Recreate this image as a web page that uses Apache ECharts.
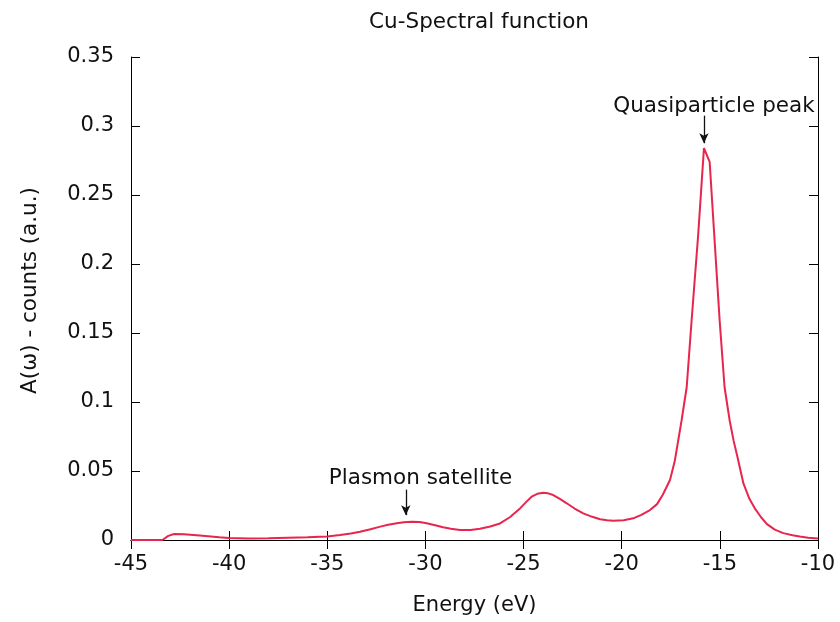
<!DOCTYPE html>
<html>
<head>
<meta charset="utf-8">
<script src="https://cdn.jsdelivr.net/npm/echarts@6/dist/echarts.min.js"></script>
<style>html,body{margin:0;padding:0;background:#fff}#c{width:840px;height:622px}</style>
</head>
<body>
<div id="c"></div>
<script>
const energy = [-45, -43.4, -43.1, -42.8, -42.3, -41.5, -40.5, -40, -39, -38, -37, -36, -35.37, -35, -34.35, -33.8, -33.33, -32.8, -32.3, -31.9, -31.46, -31.1, -30.7, -30.3, -29.94, -29.5, -29.1, -28.7, -28.24, -27.7, -27.22, -26.7, -26.2, -25.7, -25.18, -24.85, -24.59, -24.3, -24.0, -23.75, -23.49, -23.15, -22.8, -22.4, -21.96, -21.5, -21.1, -20.75, -20.43, -19.9, -19.41, -19.0, -18.56, -18.2, -17.9, -17.54, -17.3, -16.95, -16.69, -16.44, -16.1, -15.81, -15.52, -15.01, -14.76, -14.5, -14.3, -14.1, -13.8, -13.5, -13.2, -12.9, -12.6, -12.2, -11.77, -11.3, -10.93, -10.5, -10];
const spectral = [0, 0, 0.003, 0.0043, 0.0042, 0.0033, 0.002, 0.0015, 0.0011, 0.0012, 0.0016, 0.002, 0.0024, 0.0026, 0.0036, 0.0047, 0.006, 0.0078, 0.0097, 0.011, 0.0121, 0.0129, 0.0133, 0.013, 0.0121, 0.0107, 0.0092, 0.0081, 0.0072, 0.0072, 0.0082, 0.0098, 0.012, 0.0165, 0.0229, 0.0278, 0.0314, 0.0335, 0.0343, 0.0338, 0.0326, 0.0298, 0.0266, 0.0228, 0.0193, 0.0168, 0.015, 0.0143, 0.014, 0.0143, 0.0157, 0.0182, 0.0217, 0.026, 0.033, 0.0435, 0.057, 0.0866, 0.1107, 0.159, 0.222, 0.284, 0.274, 0.159, 0.1107, 0.0866, 0.072, 0.06, 0.041, 0.03, 0.0225, 0.0165, 0.0115, 0.0075, 0.005, 0.0034, 0.0025, 0.0017, 0.0011];
const annotText = ['Plasmon satellite', 'Quasiparticle peak'];
const annotTextX = [-30.25, -15.3];
const annotTextY = [0.0443, 0.3145];
const arrowX = [-31.0, -15.81];
const arrowFrom = [0.0365, 0.3075];
const arrowTo = [0.018, 0.2875];
const xTicks = [-45, -40, -35, -30, -25, -20, -15, -10];
const yTicks = [0, 0.05, 0.1, 0.15, 0.2, 0.25, 0.3, 0.35];

const font = 'DejaVu Sans';
const chart = echarts.init(document.getElementById('c'), null, {renderer: 'canvas'});
const pts = energy.map((e, i) => [e, spectral[i]]);
const axisLine = {show: true, lineStyle: {color: '#000', width: 1}};
const tick = {show: true, inside: true, length: 9, lineStyle: {color: '#000', width: 1}};

chart.setOption({
  animation: false,
  backgroundColor: '#fff',
  title: {
    text: 'Cu-Spectral function',
    left: 474, top: 6, textAlign: 'center',
    textStyle: {fontFamily: font, fontSize: 21.5, fontWeight: 'normal', color: '#111'}
  },
  grid: {left: 131, right: 22, top: 57, bottom: 82, containLabel: false},
  xAxis: [{
    type: 'value', min: -45, max: -10, interval: 5,
    name: 'Energy (eV)', nameLocation: 'middle', nameGap: 55,
    nameTextStyle: {fontFamily: font, fontSize: 21, color: '#111'},
    axisLine: axisLine, axisTick: tick, splitLine: {show: false},
    axisLabel: {fontFamily: font, fontSize: 21, color: '#111', margin: 14,
      formatter: v => xTicks.includes(v) ? String(v) : ''}
  }, {
    type: 'value', min: -45, max: -10, interval: 5, position: 'top',
    axisLine: axisLine, axisTick: tick, splitLine: {show: false}, axisLabel: {show: false}
  }],
  yAxis: [{
    type: 'value', min: 0, max: 0.35, interval: 0.05,
    name: 'A(ω) - counts (a.u.)', nameLocation: 'middle', nameGap: 90,
    nameTextStyle: {fontFamily: font, fontSize: 21.5, color: '#111', padding: [0, 0, 0, 16]},
    axisLine: axisLine, axisTick: tick, splitLine: {show: false},
    axisLabel: {fontFamily: font, fontSize: 21, color: '#111', margin: 17,
      formatter: v => { const t = yTicks.find(y => Math.abs(y - v) < 1e-9); return t === undefined ? '' : String(+t.toFixed(2)); }}
  }, {
    type: 'value', min: 0, max: 0.35, interval: 0.05, position: 'right',
    axisLine: axisLine, axisTick: tick, splitLine: {show: false}, axisLabel: {show: false}
  }],
  series: [{
    type: 'line',
    data: pts,
    showSymbol: false,
    smooth: false,
    lineStyle: {color: '#e8254d', width: 2},
    markLine: {
      silent: true,
      symbol: ['none', 'arrow'],
      symbolSize: [7, 10],
      lineStyle: {color: '#111', width: 1.3, type: 'solid'},
      label: {show: false},
      data: arrowX.map((x, i) => [{coord: [x, arrowFrom[i]]}, {coord: [x, arrowTo[i]]}])
    },
    markPoint: {
      silent: true,
      symbol: 'circle', symbolSize: 1,
      itemStyle: {color: 'rgba(0,0,0,0)'},
      label: {show: true, position: 'inside', fontFamily: font, fontSize: 21.5, color: '#111'},
      data: annotText.map((t, i) => ({coord: [annotTextX[i], annotTextY[i]], value: t,
        label: {formatter: t}}))
    }
  }]
});
</script>
</body>
</html>
